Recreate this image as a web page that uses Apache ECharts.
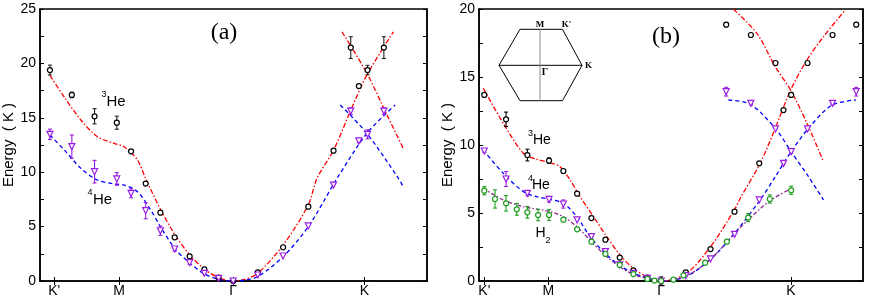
<!DOCTYPE html>
<html><head><meta charset="utf-8">
<script src="https://cdn.jsdelivr.net/npm/echarts@6/dist/echarts.min.js"></script>
<style>html,body{margin:0;padding:0;background:#fff}#c{width:872px;height:299px}</style>
</head><body><div id="c"></div>
<script>
// ---- tick labels (path coordinate: Gamma = 0, M = -1) ----
var tickPos = [-1.568, -1, 0, 1.15];
var tickNames = ["K'", "M", "\u0393", "K"];

// ---- Panel (a) data ----
var a3x = [-1.606, -1.414, -1.215, -1.02, -0.895, -0.767, -0.638, -0.513, -0.382, -0.253, -0.128, 0, 0.215, 0.437, 0.658, 0.879, 1.101, 1.03, 1.177, 1.32];
var a3y = [19.39, 17.1, 15.14, 14.55, 11.92, 8.95, 6.28, 4.01, 2.27, 1.07, 0.31, 0, 0.8, 3.1, 6.83, 11.98, 17.92, 21.45, 19.39, 21.45];
var a3err = [0.45, 0.25, 0.7, 0.6, 0, 0, 0, 0, 0, 0, 0, 0, 0, 0, 0, 0, 0, 1.0, 0.43, 1.0];

var a4x = [-1.606, -1.414, -1.215, -1.02, -0.895, -0.767, -0.638, -0.513, -0.382, -0.253, -0.128, 0, 0.215, 0.437, 0.658, 0.879, 1.03, 1.101, 1.177, 1.32];
var a4y = [13.48, 12.35, 10.05, 9.38, 8.06, 6.46, 4.62, 2.94, 1.68, 0.71, 0.25, 0, 0.55, 2.3, 5.06, 8.82, 15.62, 12.87, 13.48, 15.62];
var a4err = [0.48, 1.07, 1.04, 0.58, 0.41, 0.74, 0.43, 0.2, 0.15, 0, 0, 0, 0, 0, 0, 0, 0.3, 0.15, 0.41, 0.3];

// fits (a)
var a3fitX = [-1.606, -1.48, -1.335, -1.19, -1.044, -0.956, -0.839, -0.767, -0.638, -0.513, -0.382, -0.253, -0.128, 0, 0.1, 0.215, 0.437, 0.658, 0.734, 0.88, 1.025, 1.171, 1.404];
var a3fitY = [18.9, 16.9, 14.8, 13.26, 12.65, 12.34, 11.12, 9.4, 6.6, 4.3, 2.4, 1.1, 0.3, 0, 0.15, 0.7, 3.3, 7.0, 9.44, 12.04, 15.56, 18.93, 22.9];
var a3fit2X = [0.953, 1.171, 1.35, 1.49];
var a3fit2Y = [22.9, 19.1, 15.2, 12.2];

var a4fitX = [-1.606, -1.48, -1.335, -1.19, -1.044, -0.956, -0.839, -0.723, -0.638, -0.513, -0.382, -0.253, -0.128, 0, 0.1, 0.215, 0.437, 0.658, 0.879, 0.909, 1.171, 1.419];
var a4fitY = [13.42, 12.04, 10.36, 9.28, 8.92, 8.82, 8.21, 6.53, 5.0, 3.0, 1.65, 0.65, 0.15, 0, 0.08, 0.4, 2.23, 5.0, 8.9, 9.44, 13.57, 16.18];
var a4fit2X = [0.938, 1.171, 1.448, 1.49];
var a4fit2Y = [16.18, 13.57, 9.44, 8.67];

// ---- Panel (b) data ----
var b3x = [-1.568, -1.375, -1.186, -0.994, -0.867, -0.745, -0.618, -0.494, -0.367, -0.246, -0.122, 0, 0.219, 0.438, 0.651, 0.87, 1.085, 1.153, 1.014, 0.796, 0.577, 1.298, 1.52, 1.73];
var b3y = [13.68, 11.89, 9.26, 8.85, 8.09, 6.42, 4.63, 3.04, 1.72, 0.78, 0.25, 0, 0.64, 2.35, 5.1, 8.65, 12.57, 13.68, 16.03, 18.09, 18.85, 16.03, 18.09, 18.85];
var b3err = [0.1, 0.53, 0.43, 0.2, 0, 0, 0, 0, 0, 0, 0, 0.3, 0, 0, 0, 0, 0, 0, 0, 0, 0, 0, 0, 0];

var b4x = [-1.568, -1.375, -1.186, -0.994, -0.867, -0.745, -0.618, -0.494, -0.367, -0.246, -0.122, 0, 0.219, 0.438, 0.651, 0.87, 1.085, 1.153, 1.014, 0.796, 0.577, 1.298, 1.52, 1.73];
var b4y = [9.56, 7.5, 6.45, 6.0, 5.66, 4.49, 3.26, 2.16, 1.18, 0.56, 0.2, 0, 0.39, 1.62, 3.43, 5.96, 8.65, 9.51, 11.18, 13.06, 13.92, 11.18, 13.06, 13.92];
var b4err = [0.1, 0.55, 0.2, 0.2, 0.3, 0, 0.1, 0, 0, 0, 0, 0, 0, 0, 0, 0, 0.1, 0.1, 0, 0.1, 0.32, 0, 0.1, 0.32];

var b2x = [-1.568, -1.473, -1.375, -1.28, -1.186, -1.091, -0.994, -0.867, -0.745, -0.618, -0.494, -0.367, -0.246, -0.122, -0.059, 0, 0.109, 0.198, 0.39, 0.583, 0.772, 0.964, 1.153];
var b2y = [6.64, 6.03, 5.71, 5.27, 5.05, 4.85, 4.85, 4.51, 3.8, 2.89, 1.99, 1.18, 0.51, 0.15, 0.03, 0, 0.1, 0.42, 1.35, 2.89, 4.66, 6.03, 6.67];
var b2err = [0.3, 0.67, 0.57, 0.43, 0.43, 0.42, 0.4, 0.1, 0, 0, 0, 0, 0, 0, 0, 0, 0, 0, 0, 0, 0.3, 0.3, 0.3];

// fits (b)
var b3fitX = [-1.577, -1.4, -1.222, -1.103, -0.985, -0.896, -0.807, -0.719, -0.6, -0.482, -0.364, -0.246, -0.127, 0, 0.219, 0.438, 0.651, 0.701, 0.878, 1.012, 1.148, 1.293, 1.44, 1.633];
var b3fitY = [14.17, 11.6, 9.39, 8.95, 8.7, 8.4, 7.43, 6.2, 4.73, 3.26, 1.91, 0.93, 0.32, 0, 0.52, 2.52, 5.25, 6.08, 8.65, 11.23, 14.04, 16.25, 17.97, 19.93];
var b3fit2X = [0.642, 0.849, 1.012, 1.148, 1.293, 1.44];
var b3fit2Y = [19.98, 18.21, 15.76, 14.04, 11.6, 8.77];

var b4fitX = [-1.577, -1.4, -1.222, -1.103, -0.985, -0.867, -0.748, -0.63, -0.512, -0.393, -0.275, -0.157, 0, 0.219, 0.438, 0.651, 0.878, 1.012, 1.153, 1.307, 1.515, 1.727];
var b4fitY = [9.63, 7.92, 6.57, 6.2, 6.0, 5.71, 4.73, 3.26, 2.15, 1.3, 0.68, 0.32, 0, 0.32, 1.59, 3.5, 5.96, 7.67, 9.51, 11.23, 12.94, 13.31];
var b4fit2X = [0.597, 0.79, 1.012, 1.153, 1.307, 1.44];
var b4fit2Y = [13.31, 13.0, 11.23, 9.51, 7.67, 5.96];

var b2fitX = [-1.577, -1.4, -1.222, -0.985, -0.867, -0.748, -0.63, -0.512, -0.393, -0.275, -0.157, 0, 0.219, 0.438, 0.651, 0.772, 0.964, 1.153];
var b2fitY = [6.81, 5.96, 5.47, 5.1, 4.73, 4.0, 3.0, 2.0, 1.2, 0.6, 0.25, 0, 0.36, 1.6, 3.5, 4.5, 5.9, 6.8];

// ---- helpers ----
function zip(xs, ys) { return xs.map(function (x, i) { return [x, ys[i]]; }); }
function zip3(xs, ys, es) { return xs.map(function (x, i) { return [x, ys[i], es[i]]; }); }

var RED = '#ff0000', BLUE = '#0000ff', PURPLE = '#9a1ee0', GREEN = '#1f9e1f', HLINE = '#8a2a8a';
var SANS = 'Liberation Sans, Arial, sans-serif';
var SERIF = 'Liberation Serif, Times New Roman, serif';

function tickFmt(v) {
  for (var i = 0; i < tickPos.length; i++) if (Math.abs(tickPos[i] - v) < 1e-6) return tickNames[i];
  return '';
}

function xAxes(gi, xmin, xmax) {
  return [
    { type: 'value', gridIndex: gi, min: xmin, max: xmax, position: 'bottom',
      axisLine: { show: true, onZero: false, lineStyle: { color: '#000', width: 1.5 } },
      splitLine: { show: false },
      axisTick: { show: true, customValues: tickPos, inside: false, length: 4, lineStyle: { color: '#000', width: 1 } },
      axisLabel: { show: true, customValues: tickPos, formatter: tickFmt, color: '#000', fontSize: 14, fontFamily: SANS, margin: 3 } },
    { type: 'value', gridIndex: gi, min: xmin, max: xmax, position: 'bottom',
      axisLine: { show: false, onZero: false },
      splitLine: { show: false },
      axisTick: { show: true, customValues: tickPos, inside: true, length: 4, lineStyle: { color: '#000', width: 1 } },
      axisLabel: { show: false } }
  ];
}
function yAxes(gi, ymax) {
  return [
    { type: 'value', gridIndex: gi, min: 0, max: ymax, interval: 2.5, position: 'left',
      name: 'Energy  ( K )', nameLocation: 'middle', nameGap: 24,
      nameTextStyle: { fontSize: 15, fontFamily: SANS, color: '#000' },
      axisLine: { show: true, onZero: false, lineStyle: { color: '#000', width: 1.5 } },
      splitLine: { show: false },
      axisTick: { show: true, inside: true, length: 4, lineStyle: { color: '#000', width: 1 } },
      axisLabel: { show: true, color: '#000', fontSize: 14, fontFamily: SANS, margin: 4,
        formatter: function (v) { return (Math.abs(v % 5) < 1e-6) ? String(v) : ''; } } },
    { type: 'value', gridIndex: gi, min: 0, max: ymax, interval: 2.5, position: 'right',
      axisLine: { show: true, onZero: false, lineStyle: { color: '#000', width: 1.5 } },
      splitLine: { show: false },
      axisTick: { show: true, inside: true, length: 4, lineStyle: { color: '#000', width: 1 } },
      axisLabel: { show: false } }
  ];
}

function lineS(xi, yi, xs, ys, color, dash) {
  return { type: 'line', xAxisIndex: xi, yAxisIndex: yi, data: zip(xs, ys), symbol: 'none', smooth: 0.3,
    lineStyle: { color: color, width: 1.3, type: dash }, z: 2, silent: true, animation: false };
}
function scatS(xi, yi, xs, ys, sym, size, color, rot) {
  return { type: 'scatter', xAxisIndex: xi, yAxisIndex: yi, data: zip(xs, ys), symbol: sym, symbolSize: size,
    symbolRotate: rot || 0,
    itemStyle: { color: '#fff', borderColor: color, borderWidth: 1.2, opacity: 1 }, z: 4, animation: false };
}
function errS(xi, yi, xs, ys, es, color) {
  return { type: 'custom', xAxisIndex: xi, yAxisIndex: yi, data: zip3(xs, ys, es), z: 3, animation: false, silent: true,
    encode: { x: 0, y: 1 },
    renderItem: function (params, api) {
      var x = api.value(0), y = api.value(1), e = api.value(2);
      if (!e) return { type: 'group', children: [] };
      var p1 = api.coord([x, y - e]), p2 = api.coord([x, y + e]);
      var w = 2, st = { stroke: color, lineWidth: 1.1 };
      return { type: 'group', children: [
        { type: 'line', shape: { x1: p1[0], y1: p1[1], x2: p2[0], y2: p2[1] }, style: st },
        { type: 'line', shape: { x1: p1[0] - w, y1: p1[1], x2: p1[0] + w, y2: p1[1] }, style: st },
        { type: 'line', shape: { x1: p2[0] - w, y1: p2[1], x2: p2[0] + w, y2: p2[1] }, style: st }
      ] };
    } };
}

var DASHDOT = [5, 2, 1.5, 2];
var DASHED = [4, 3];
var DASHDOT2 = [4, 2, 1.5, 2];

var option = {
  backgroundColor: '#fff',
  animation: false,
  grid: [
    { left: 39, right: 445, top: 9, bottom: 18, show: true, borderColor: '#000', borderWidth: 1.5, containLabel: false },
    { left: 479, right: 9, top: 9, bottom: 18, show: true, borderColor: '#000', borderWidth: 1.5, containLabel: false }
  ],
  xAxis: xAxes(0, -1.693, 1.698).concat(xAxes(1, -1.615, 1.79)),
  yAxis: yAxes(0, 25).concat(yAxes(1, 20)),
  series: [
    // panel (a)
    lineS(0, 0, a3fitX, a3fitY, RED, DASHDOT),
    lineS(0, 0, a3fit2X, a3fit2Y, RED, DASHDOT),
    lineS(0, 0, a4fitX, a4fitY, BLUE, DASHED),
    lineS(0, 0, a4fit2X, a4fit2Y, BLUE, DASHED),
    errS(0, 0, a3x, a3y, a3err, '#222'),
    errS(0, 0, a4x, a4y, a4err, PURPLE),
    scatS(0, 0, a3x, a3y, 'circle', 5, '#000'),
    scatS(0, 0, a4x, a4y, 'triangle', 6, PURPLE, 180),
    // panel (b)
    lineS(2, 2, b3fitX, b3fitY, RED, DASHDOT),
    lineS(2, 2, b3fit2X, b3fit2Y, RED, DASHDOT),
    lineS(2, 2, b4fitX, b4fitY, BLUE, DASHED),
    lineS(2, 2, b4fit2X, b4fit2Y, BLUE, DASHED),
    lineS(2, 2, b2fitX, b2fitY, HLINE, DASHDOT2),
    errS(2, 2, b3x, b3y, b3err, '#000'),
    errS(2, 2, b4x, b4y, b4err, PURPLE),
    errS(2, 2, b2x, b2y, b2err, GREEN),
    scatS(2, 2, b3x, b3y, 'circle', 5, '#000'),
    scatS(2, 2, b4x, b4y, 'triangle', 6, PURPLE, 180),
    scatS(2, 2, b2x, b2y, 'circle', 5, GREEN)
  ],
  graphic: [
    { type: 'text', x: 224, y: 33, style: { text: '(a)', font: '24px ' + SERIF, fill: '#000', align: 'center', verticalAlign: 'middle' } },
    { type: 'text', x: 666, y: 37, style: { text: '(b)', font: '24px ' + SERIF, fill: '#000', align: 'center', verticalAlign: 'middle' } },
    // species labels (a)
    { type: 'text', x: 101.5, y: 95, style: { text: '3', font: '9px ' + SANS, fill: '#000', align: 'left', verticalAlign: 'middle' } },
    { type: 'text', x: 106.5, y: 102, style: { text: 'He', font: '15px ' + SANS, fill: '#000', align: 'left', verticalAlign: 'middle' } },
    { type: 'text', x: 87.5, y: 193, style: { text: '4', font: '9px ' + SANS, fill: '#000', align: 'left', verticalAlign: 'middle' } },
    { type: 'text', x: 93, y: 199.5, style: { text: 'He', font: '15px ' + SANS, fill: '#000', align: 'left', verticalAlign: 'middle' } },
    // species labels (b)
    { type: 'text', x: 528, y: 133.5, style: { text: '3', font: '9px ' + SANS, fill: '#000', align: 'left', verticalAlign: 'middle' } },
    { type: 'text', x: 533, y: 140.5, style: { text: 'He', font: '14px ' + SANS, fill: '#000', align: 'left', verticalAlign: 'middle' } },
    { type: 'text', x: 528, y: 178.5, style: { text: '4', font: '9px ' + SANS, fill: '#000', align: 'left', verticalAlign: 'middle' } },
    { type: 'text', x: 532, y: 185.5, style: { text: 'He', font: '14px ' + SANS, fill: '#000', align: 'left', verticalAlign: 'middle' } },
    { type: 'text', x: 535.5, y: 233.5, style: { text: 'H', font: '14px ' + SANS, fill: '#000', align: 'left', verticalAlign: 'middle' } },
    { type: 'text', x: 545.5, y: 240.5, style: { text: '2', font: '9px ' + SANS, fill: '#000', align: 'left', verticalAlign: 'middle' } },
    // Brillouin-zone inset
    { type: 'polygon', shape: { points: [[520, 29.3], [562.5, 29.3], [582, 65.3], [562.5, 100.7], [520, 100.7], [499, 65.3]] },
      style: { fill: 'none', stroke: '#000', lineWidth: 1 } },
    { type: 'line', shape: { x1: 499, y1: 65.3, x2: 582, y2: 65.3 }, style: { stroke: '#000', lineWidth: 1 } },
    { type: 'line', shape: { x1: 540, y1: 29.3, x2: 540, y2: 100.7 }, style: { stroke: '#888', lineWidth: 1 } },
    { type: 'text', x: 540, y: 25, style: { text: 'M', font: 'bold 9px ' + SERIF, fill: '#000', align: 'center', verticalAlign: 'middle' } },
    { type: 'text', x: 566.5, y: 25, style: { text: "K'", font: 'bold 9px ' + SERIF, fill: '#000', align: 'center', verticalAlign: 'middle' } },
    { type: 'text', x: 588.5, y: 66, style: { text: 'K', font: 'bold 9px ' + SERIF, fill: '#000', align: 'center', verticalAlign: 'middle' } },
    { type: 'text', x: 545, y: 72.5, style: { text: '\u0393', font: 'bold 10px ' + SERIF, fill: '#000', align: 'center', verticalAlign: 'middle' } }
  ]
};

var chart = echarts.init(document.getElementById('c'), null, { renderer: 'canvas' });
chart.setOption(option);
</script></body></html>
